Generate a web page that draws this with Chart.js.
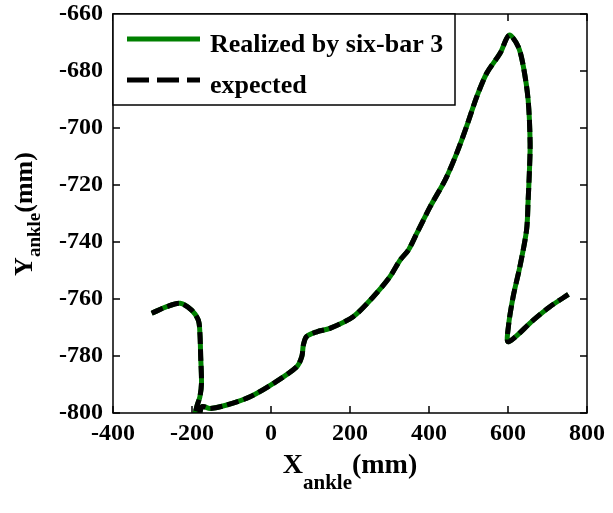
<!DOCTYPE html>
<html>
<head>
<meta charset="utf-8">
<script src="https://cdn.jsdelivr.net/npm/chart.js@4"></script>
<style>
  body { margin: 0; background: #fff; }
</style>
</head>
<body>
<canvas id="ankle" width="613" height="513"></canvas>
<script>
// ------------------------- DATA -------------------------
const pathX = [-302, -264, -230, -201, -184, -180, -178, -176, -180, -188, -195, -185,
  -175, -154, -112, -53, 6, 65, 78, 82, 90, 116, 149, 208, 259, 301, 327, 348, 369,
  403, 441, 470, 495, 521, 546, 580, 603, 626, 639, 651, 656, 654, 651, 647, 630,
  613, 601, 601, 664, 706, 753];
const pathY = [-765, -762.7, -761.5, -763.9, -767.4, -772, -780.2, -789.6, -794.3, -797.8, -803, -803,
  -797.8, -798.4, -797.2, -794.3, -789.6, -783.8, -780.2, -776.1, -773.2, -771.5, -770.3, -766.2, -759.2, -752.2, -746.3, -742.8, -737,
  -727.6, -718.2, -708.9, -699.5, -689, -680.8, -673.8, -667.4, -671.5, -678.5, -690.2, -705.4, -715.9, -725.3, -735.8, -748.7,
  -759.2, -769.7, -775, -767.4, -762.7, -758.4];

const xTicks = [-400, -200, 0, 200, 400, 600, 800];
const yTicks = [-800, -780, -760, -740, -720, -700, -680, -660];

const legendLabels = ["Realized by six-bar 3", "expected"];

const points = pathX.map((v, i) => ({ x: v, y: pathY[i] }));

const SERIF = "'Liberation Serif', 'Times New Roman', serif";

// ------------------------- FRAME + LEGEND + TITLES -------------------------
const framePlugin = {
    id: "frame",
    afterDatasetsDraw(chart) {
        const { ctx, chartArea: a, scales } = chart;
        ctx.save();

        // box
        ctx.strokeStyle = "#000";
        ctx.lineWidth = 1.5;
        ctx.strokeRect(a.left, a.top, a.right - a.left, a.bottom - a.top);

        // inward ticks on all sides
        ctx.beginPath();
        xTicks.forEach(v => {
            const px = scales.x.getPixelForValue(v);
            ctx.moveTo(px, a.bottom); ctx.lineTo(px, a.bottom - 7);
            ctx.moveTo(px, a.top); ctx.lineTo(px, a.top + 7);
        });
        yTicks.forEach(v => {
            const py = scales.y.getPixelForValue(v);
            ctx.moveTo(a.left, py); ctx.lineTo(a.left + 7, py);
            ctx.moveTo(a.right, py); ctx.lineTo(a.right - 7, py);
        });
        ctx.stroke();

        // legend box
        const lx = a.left, ly = a.top, lw = 342, lh = 91;
        ctx.fillStyle = "#fff";
        ctx.fillRect(lx, ly, lw, lh);
        ctx.strokeRect(lx, ly, lw, lh);

        ctx.lineWidth = 5;
        ctx.strokeStyle = "#008000";
        ctx.beginPath();
        ctx.moveTo(lx + 14, ly + 25); ctx.lineTo(lx + 87, ly + 25);
        ctx.stroke();

        ctx.strokeStyle = "#000";
        ctx.setLineDash([22, 8]);
        ctx.beginPath();
        ctx.moveTo(lx + 14, ly + 66); ctx.lineTo(lx + 87, ly + 66);
        ctx.stroke();
        ctx.setLineDash([]);

        ctx.fillStyle = "#000";
        ctx.font = "bold 26px " + SERIF;
        ctx.textAlign = "left";
        ctx.textBaseline = "alphabetic";
        ctx.fillText(legendLabels[0], lx + 97, ly + 38);
        ctx.fillText(legendLabels[1], lx + 97, ly + 79);

        // x title: X_ankle(mm)
        const big = "bold 28px " + SERIF, small = "bold 21px " + SERIF;
        ctx.font = big;
        const wX = ctx.measureText("X").width, wM = ctx.measureText("(mm)").width;
        ctx.font = small;
        const wA = ctx.measureText("ankle").width;
        let tx = (a.left + a.right) / 2 - (wX + wA + wM) / 2;
        ctx.font = big; ctx.fillText("X", tx, 473);
        ctx.font = small; ctx.fillText("ankle", tx + wX, 489);
        ctx.font = big; ctx.fillText("(mm)", tx + wX + wA, 473);

        // y title: Y_ankle(mm), rotated
        ctx.translate(32, 214);
        ctx.rotate(-Math.PI / 2);
        const bigY = "bold 26px " + SERIF, smallY = "bold 19px " + SERIF;
        ctx.font = bigY;
        const yY = ctx.measureText("Y").width, yM = ctx.measureText("(mm)").width;
        ctx.font = smallY;
        const yA = ctx.measureText("ankle").width;
        let ty = -(yY + yA + yM) / 2;
        ctx.font = bigY; ctx.fillText("Y", ty, 0);
        ctx.font = smallY; ctx.fillText("ankle", ty + yY, 8);
        ctx.font = bigY; ctx.fillText("(mm)", ty + yY + yA, 0);

        ctx.restore();
    }
};

// ------------------------- CHART -------------------------
const tickFont = { family: SERIF, size: 24, weight: "bold" };

new Chart(document.getElementById("ankle"), {
    type: "line",
    data: {
        datasets: [
            {
                label: legendLabels[1],
                data: points,
                borderColor: "#000",
                borderWidth: 5,
                borderDash: [12, 5],
                pointRadius: 0,
                tension: 0.3,
                fill: false,
                clip: 0
            },
            {
                label: legendLabels[0],
                data: points,
                borderColor: "#008000",
                borderWidth: 5,
                pointRadius: 0,
                tension: 0.3,
                fill: false,
                clip: 0
            }
        ]
    },
    options: {
        responsive: false,
        animation: false,
        devicePixelRatio: 1,
        layout: { padding: { top: 14, right: 26, left: 0, bottom: 0 } },
        plugins: { legend: { display: false }, tooltip: { enabled: false } },
        scales: {
            x: {
                type: "linear",
                min: -400, max: 800,
                afterBuildTicks: s => { s.ticks = xTicks.map(v => ({ value: v })); },
                ticks: { font: tickFont, color: "#000", padding: 6, maxRotation: 0 },
                grid: { display: false, drawTicks: false },
                border: { display: false },
                afterFit: s => { s.height = 100; s.paddingLeft = 0; s.paddingRight = 0; }
            },
            y: {
                type: "linear",
                min: -800, max: -660,
                afterBuildTicks: s => { s.ticks = yTicks.map(v => ({ value: v })); },
                ticks: { font: tickFont, color: "#000", padding: 10 },
                grid: { display: false, drawTicks: false },
                border: { display: false },
                afterFit: s => { s.width = 113; s.paddingTop = 0; s.paddingBottom = 0; }
            }
        }
    },
    plugins: [framePlugin]
});
</script>
</body>
</html>
